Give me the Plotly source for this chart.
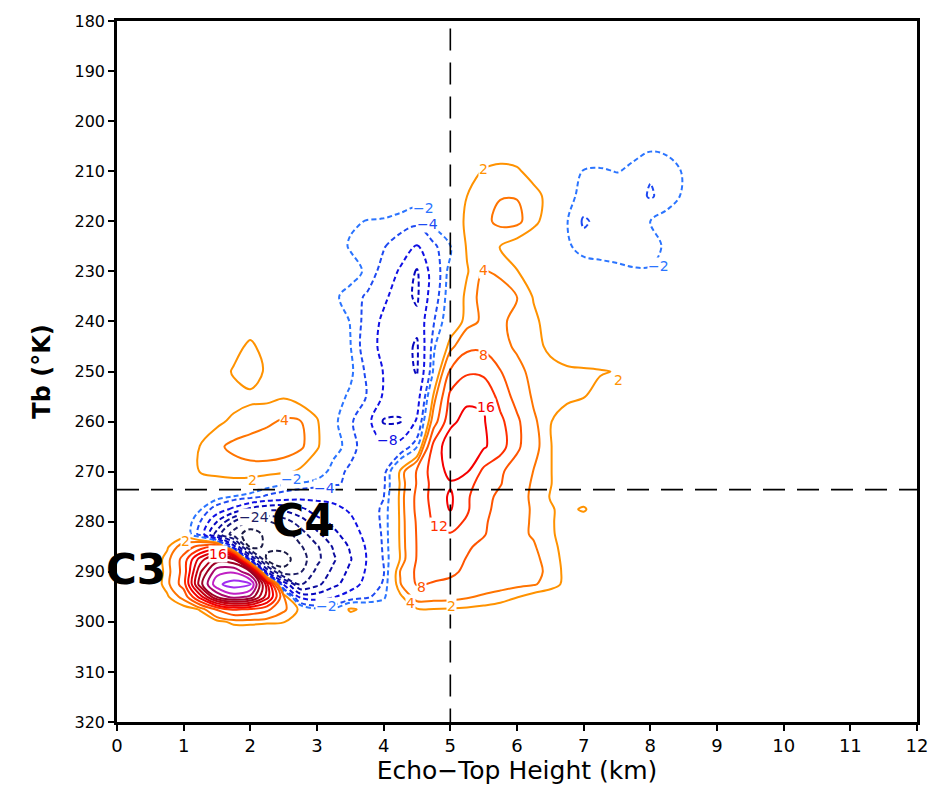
import plotly.graph_objects as go

# Grid of echo-top height (km) and brightness temperature (K)
echo_top_km = [0.5, 0.75, 1.0, 1.25, 1.5, 1.75, 2.0, 2.25, 2.5, 2.75, 3.0, 3.25,
               3.5, 3.75, 4.0, 4.25, 4.5, 4.75, 5.0, 5.25, 5.5, 5.75, 6.0, 6.25,
               6.5, 6.75, 7.0, 7.25, 7.5, 7.75, 8.0, 8.25, 8.5, 8.75]
tb_kelvin = [200, 205, 210, 215, 220, 225, 230, 235, 240, 245, 250, 255, 260, 265,
             270, 272.5, 275, 277.5, 280, 282.5, 285, 287.5, 290, 292.5, 295,
             297.5, 300, 302.5]

# Frequency difference field, one row per Tb value
freq_diff = [
    [0] * 34,
    [0] * 20 + [0.5, 0.8, 0.6, 0, 0, 0, 0, 0, 0, -0.5, -1.5, -1.4, -0.6, 0],
    [0] * 19 + [1.0, 2.2, 2.5, 2.3, 1.2, 0, -1.2, -2.1, -2.3, -1.9, -3.0, -3.8, -3.0, -1.8, 0],
    [0] * 14 + [-0.5, -0.8, -1.2, -0.5, 0.3, 2.0, 2.9, 3.9, 3.9, 2.7, 1.3, -1.4, -2.6, -2.9,
                -2.9, -3.2, -4.2, -3.3, -1.6, 0],
    [0] * 11 + [-0.3, -1.6, -2.1, -2.2, -2.6, -3.0, -1.2, 0.5, 2.4, 3.4, 4.6, 4.6, 2.6, 0.8,
                -1.9, -4.3, -3.4, -3.0, -2.6, -2.0, -0.9, -0.3, 0],
    [0] * 11 + [-0.5, -2.3, -2.8, -3.8, -5.5, -8.2, -4.5, -2.1, 2.3, 2.6, 1.9, 0.8, 0.2, 0,
                -1.5, -3.2, -3.3, -3.0, -3.0, -2.8, -1.6, -0.3, 0],
    [0] * 11 + [-0.3, -0.8, -2.5, -5.0, -8.6, -12.4, -6.0, -1.0, 1.8, 4.2, 3.5, 2.1, 0.6, 0,
                0, -0.3, -0.9, -1.5, -1.8, -1.8, -1.2, -0.2, 0],
    [0] * 11 + [-1.5, -3.0, -4.3, -7.0, -10.5, -12.6, -5.5, -0.5, 2.6, 5.0, 5.2, 4.1, 1.8, 0.3]
    + [0] * 9,
    [0, 0, 0, 0, 0, 0, 0.3, 0, 0, 0, 0, -0.5, -2.1, -5.0, -9.0, -10.5, -11.0, -4.2, 0.0, 2.8,
     4.6, 4.4, 3.4, 2.5, 1.0, 0.2] + [0] * 8,
    [0, 0, 0, 0, 0, 1.0, 2.6, 0.8, 0, 0, 0, -0.5, -1.9, -5.5, -9.5, -10.5, -12.5, -2.5, 3.0,
     7.0, 7.2, 5.0, 3.5, 2.6, 1.6, 0.6, 0.2] + [0] * 7,
    [0, 0, 0, 0, 0.5, 2.3, 3.2, 1.6, 0.3, 0, 0, -0.6, -1.5, -4.5, -8.2, -10.0, -12.3, -1.5,
     8.5, 11.5, 11.0, 8.2, 5.0, 3.0, 2.6, 2.4, 2.3, 2.15, 1.9, 0.3, 0, 0, 0, 0],
    [0, 0, 0, 0, 0.3, 1.0, 1.5, 1.4, 1.8, 1.0, 0.2, -1.0, -2.4, -4.1, -8.5, -11.0, -10.0, 2.5,
     13.0, 15.0, 15.5, 10.5, 6.5, 3.5, 2.8, 2.5, 2.1, 1.3, 0.4, 0, 0, 0, 0, 0],
    [0, 0, 0, 0.5, 1.5, 2.5, 3.0, 3.6, 4.3, 4.1, 2.3, -1.5, -3.5, -6.5, -12.4, -12.2, -7.5, 6.0,
     15.0, 17.5, 16.3, 13.0, 8.8, 4.5, 2.1, 0.8] + [0] * 8,
    [0, 0, 0.5, 2.1, 3.6, 4.5, 5.0, 5.3, 5.2, 4.4, 2.4, -1.0, -3.0, -5.5, -7.0, -6.5, -2.1, 13.5,
     18.5, 18.0, 16.5, 13.8, 8.8, 5.0, 2.1, 0.8] + [0] * 8,
    [0, 0, 0.6, 2.1, 2.6, 3.0, 3.2, 3.0, 2.5, 1.6, -0.5, -3.0, -4.5, -5.0, -5.0, 2.5, 8.5, 14.0,
     17.0, 16.3, 11.0, 8.6, 6.0, 3.9, 2.1, 0.8] + [0] * 8,
    [0, 0, 0, 0.8, 1.0, 1.0, 0.6, -0.8, -1.8, -2.4, -3.0, -3.8, -4.3, -4.5, -4.5, 2.3, 8.3, 13.5,
     15.6, 13.5, 10.0, 8.2, 5.5, 3.6, 2.1, 0.8] + [0] * 8,
    [0, 0, 0, -0.3, -1.0, -2.1, -3.0, -4.5, -5.5, -6.5, -7.0, -6.8, -6.0, -5.0, -4.1, 2.6, 9.0,
     13.5, 16.6, 12.5, 9.5, 7.0, 5.1, 3.5, 1.9, 0.8, 0.8] + [0] * 7,
    [0, 0, 0, -1.8, -5.5, -9.0, -13.0, -15.0, -15.0, -13.0, -10.0, -9.0, -7.5, -5.5, -3.5, 2.5,
     9.0, 13.0, 16.3, 12.5, 8.8, 7.0, 5.3, 3.6, 2.2, 1.4, 2.3, 0.5] + [0] * 6,
    [0, 0, 0, -4.0, -12.0, -20.0, -25.0, -24.5, -22.0, -18.0, -13.5, -11.0, -8.8, -6.0, -3.4,
     2.4, 8.5, 12.5, 13.5, 11.5, 8.5, 6.5, 4.8, 3.7, 2.3, 1.0, 0.8] + [0] * 7,
    [0, 0, 0.5, -5.0, -18.0, -26.0, -30.0, -27.0, -26.0, -22.0, -17.0, -13.0, -10.0, -6.8, -3.5,
     2.4, 8.3, 11.0, 11.8, 10.5, 8.3, 6.0, 4.5, 3.8, 2.4, 0.9] + [0] * 8,
    [0, 1.6, 5.5, 9.5, 11.5, -10.0, -29.0, -27.5, -27.0, -24.5, -20.5, -15.5, -11.5, -7.5, -3.6,
     2.3, 8.2, 10.0, 10.5, 8.5, 7.0, 6.2, 5.5, 4.2, 2.8, 1.0] + [0] * 8,
    [0, 2.8, 9.5, 22.0, 30.0, 28.5, -10.0, -28.5, -29.5, -26.0, -21.0, -16.5, -12.3, -7.8, -3.8,
     2.2, 8.3, 9.6, 9.5, 7.8, 6.5, 5.8, 5.3, 4.5, 3.2, 1.1] + [0] * 8,
    [0, 2.6, 9.5, 27.5, 38.5, 39.5, 32.5, -12.5, -27.0, -24.3, -19.0, -15.0, -11.0, -7.5, -4.2,
     4.2, 8.8, 9.5, 9.0, 7.0, 6.0, 5.5, 5.0, 4.6, 3.5, 1.2] + [0] * 8,
    [0, 2.9, 10.0, 30.5, 43.0, 46.0, 44.5, 22.0, -8.5, -20.5, -17.0, -13.0, -10.0, -6.5, -3.6,
     3.8, 8.4, 7.6, 6.8, 6.0, 5.5, 5.0, 4.6, 4.2, 3.2, 1.2] + [0] * 8,
    [0, 1.6, 5.0, 18.0, 32.5, 38.0, 35.0, 22.0, 4.5, -9.0, -10.0, -8.3, -6.0, -4.5, -2.4, 1.5,
     5.2, 5.0, 4.8, 4.3, 3.6, 3.0, 2.1, 1.0, 0.2] + [0] * 9,
    [0, 0, 0.8, 2.2, 8.5, 12.5, 11.5, 9.0, 4.5, 1.5, -1.5, -1.5, 2.5, 1.2, -0.5, 1.0, 1.8, 1.9,
     1.8, 1.6, 1.3, 0.9, 0.4] + [0] * 11,
    [0, 0, 0, 0.5, 1.2, 2.6, 2.6, 2.3, 2.1, 1.0] + [0] * 24,
    [0] * 34,
]

# Contour levels and their line colours
positive_levels = [2, 4, 8, 12, 16, 20, 24, 28, 32, 36, 40, 44]
positive_colors = ["#ff9200", "#ff7400", "#ff5500", "#ff3000", "#f50000", "#dc0008",
                   "#c40010", "#b0001a", "#9c0024", "#a8086a", "#c020c4", "#a02cf0"]
negative_levels = [-2, -4, -8, -12, -16, -20, -24, -28]
negative_colors = ["#2a74ff", "#1e4af2", "#1010e4", "#0606c0", "#0c0c9c", "#141480",
                   "#1c1c64", "#1a1a44"]

# In-line contour labels: (height, Tb, level)
label_x = [5.49, 4.60, 4.66, 5.50, 8.12, 5.50, 7.52, 5.53, 2.51, 4.05, 2.03, 2.62, 3.11,
           2.06, 4.83, 1.02, 1.51, 4.56, 4.40, 5.02, 3.14]
label_y = [209.5, 217.3, 220.6, 229.8, 229.0, 246.8, 251.6, 257.1, 259.7, 263.7, 271.6,
           271.4, 273.2, 279.0, 280.9, 283.9, 286.5, 293.0, 296.3, 296.8, 296.8]
label_level = [2, -2, -4, 4, -2, 8, 2, 16, 4, -8, 2, -2, -4, -24, 12, 2, 16, 8, 4, 2, -2]

# Reference thresholds
height_threshold_km = 5.0
tb_threshold_k = 273.6

level_color = dict(zip(positive_levels + negative_levels, positive_colors + negative_colors))

fig = go.Figure()

for lv, col in zip(negative_levels + positive_levels, negative_colors + positive_colors):
    fig.add_trace(go.Contour(
        x=echo_top_km, y=tb_kelvin, z=freq_diff,
        autocontour=False,
        contours=dict(start=lv, end=lv, size=1, coloring="none", showlabels=False),
        line=dict(color=col, width=2, dash="5px,3px" if lv < 0 else "solid", smoothing=1.0),
        showscale=False, hoverinfo="skip", showlegend=False,
    ))

# Dashed threshold lines
fig.add_shape(type="line", x0=height_threshold_km, x1=height_threshold_km, y0=181.5, y1=320,
              line=dict(color="black", width=1.6, dash="22px,12px"))
fig.add_shape(type="line", x0=0, x1=12, y0=tb_threshold_k, y1=tb_threshold_k,
              line=dict(color="black", width=1.6, dash="22px,12px"))

for xv, yv, lv in zip(label_x, label_y, label_level):
    fig.add_annotation(x=xv, y=yv, text=str(lv).replace("-", "\u2212"), showarrow=False,
                       font=dict(family="DejaVu Sans", size=14, color=level_color[lv]),
                       bgcolor="white", borderpad=0)

# Cluster tags
fig.add_annotation(x=0.29, y=289.5, text="<b>C3</b>", showarrow=False,
                   font=dict(family="DejaVu Sans", size=42, color="black"))
fig.add_annotation(x=2.80, y=279.8, text="<b>C4</b>", showarrow=False,
                   font=dict(family="DejaVu Sans", size=44, color="black"))

axis_common = dict(showgrid=False, zeroline=False, showline=True, linewidth=2.5,
                   linecolor="black", mirror=True, ticks="outside", ticklen=6,
                   tickwidth=1.5, tickcolor="black")

fig.update_layout(
    width=940, height=793,
    margin=dict(l=117, r=20, t=16, b=71),
    paper_bgcolor="white", plot_bgcolor="white",
    font=dict(family="DejaVu Sans", color="black"),
    xaxis=dict(range=[0, 12], tick0=0, dtick=1, tickfont=dict(size=18),
               title=dict(text="Echo\u2212Top Height (km)", font=dict(size=25), standoff=6),
               **axis_common),
    yaxis=dict(range=[320, 180], tick0=180, dtick=10, tickfont=dict(size=16),
               title=dict(text="<b>Tb (\u00b0K)</b>", font=dict(size=24), standoff=18),
               **axis_common),
)

fig.write_html("out.html")
